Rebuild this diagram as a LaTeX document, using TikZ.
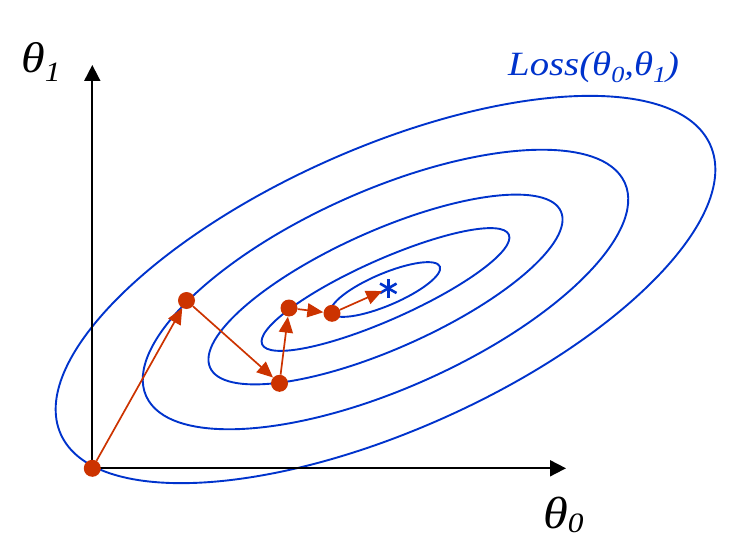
\documentclass[tikz,border=0pt]{standalone}
\usepackage{fontspec}
\setmainfont{Liberation Serif}
\usetikzlibrary{arrows.meta}
\definecolor{cblue}{HTML}{0033CC}
\definecolor{cred}{HTML}{CC3300}
\begin{document}
\begin{tikzpicture}[x=1pt,y=-1pt,
  contour/.style={draw=cblue, line width=1.9pt},
  axisline/.style={draw=black, line width=1.8pt, -{Triangle[length=16pt,width=16pt]}},
  dot/.style={circle, fill=cred, minimum size=17pt, inner sep=0pt},
  stepline/.style={draw=cred, line width=1.7pt, -{Triangle[length=16pt,width=14pt]}},
  lbl/.style={inner sep=0pt, anchor=base west}
]
\useasboundingbox (0,0) rectangle (729,551);
% contours
\begin{scope}[shift={(385.5,289.5)}, rotate=24]
  \draw[contour] (0,0) ellipse [x radius=355.5, y radius=141];
  \draw[contour] (0,0) ellipse [x radius=262, y radius=99];
  \draw[contour] (0,0) ellipse [x radius=192, y radius=59];
  \draw[contour] (0,0) ellipse [x radius=135, y radius=30];
\end{scope}
\begin{scope}[shift={(385.5,289.5)}, rotate=23]
  \draw[contour] (0,0) ellipse [x radius=59, y radius=16];
\end{scope}
% axes
\coordinate (O) at (92.3,468.3);
\coordinate (ytip) at (92.3,65);
\coordinate (xtip) at (566,468.3);
\draw[axisline] (O) -- (ytip);
\draw[axisline] (O) -- (xtip);
% star
\node[circle, inner sep=0pt, minimum size=13pt] (star) at (388.3,288.3) {};
\foreach \a in {90,30,150}
  \draw[cblue, line width=2.6pt] (star.center) ++(\a:9.5) -- ++(\a+180:19);
% dots
\node[dot] (p0) at (92.3,468.3) {};
\node[dot] (p1) at (186.5,300.5) {};
\node[dot] (p2) at (279.5,383.3) {};
\node[dot] (p3) at (289,308) {};
\node[dot] (p4) at (332,313.3) {};
% steps
\draw[stepline] (p0) -- (p1);
\draw[stepline] (p1) -- (p2);
\draw[stepline] (p2) -- (p3);
\draw[stepline] (p3) -- (p4);
\draw[stepline] (p4) -- (star);
% labels
\node[lbl, font=\fontsize{43}{43}\selectfont\itshape] (th1) at (21,73)
  {\scalebox{1.12}[1]{θ\raisebox{-9pt}{\fontsize{28}{28}\selectfont 1}}};
\node[lbl, font=\fontsize{45}{45}\selectfont\itshape] (th0) at (543,528)
  {\scalebox{1.12}[1]{θ\raisebox{-4pt}{\fontsize{28}{28}\selectfont 0}}};
\node[lbl, text=cblue, font=\fontsize{34}{34}\selectfont\itshape] (loss) at (508,76)
  {\scalebox{1.14}[1]{Loss(θ\raisebox{-7pt}{\fontsize{23}{23}\selectfont 0},θ\raisebox{-7pt}{\fontsize{23}{23}\selectfont 1})}};
\end{tikzpicture}
\end{document}
